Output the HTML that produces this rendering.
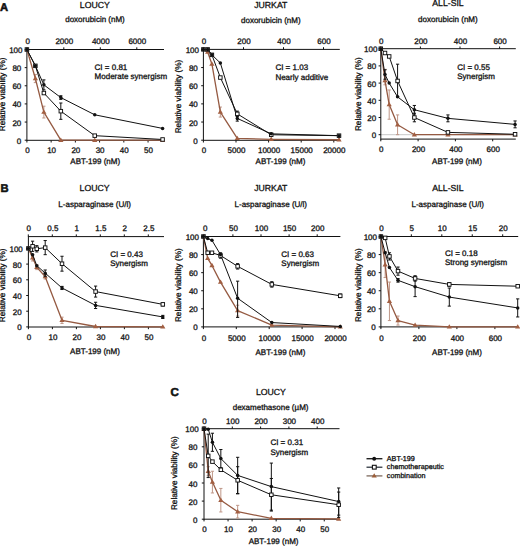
<!DOCTYPE html>
<html><head><meta charset="utf-8"><style>
html,body{margin:0;padding:0;background:#fff;}
svg{display:block;}
text{font-family:"Liberation Sans", sans-serif;fill:#111;stroke:#111;stroke-width:0.3px;text-rendering:geometricPrecision;}
</style></head><body>
<svg width="520" height="547" viewBox="0 0 520 547">
<rect width="520" height="547" fill="#fff"/>
<line x1="26.90" y1="49.50" x2="164.00" y2="49.50" stroke="#111" stroke-width="1"/>
<line x1="26.90" y1="140.30" x2="164.00" y2="140.30" stroke="#111" stroke-width="1"/>
<line x1="26.90" y1="49.00" x2="26.90" y2="140.80" stroke="#111" stroke-width="1"/>
<line x1="27.30" y1="47.30" x2="27.30" y2="49.50" stroke="#111" stroke-width="1"/>
<text x="27.80" y="43.60" font-size="8" text-anchor="middle" font-weight="normal" >0</text>
<line x1="63.80" y1="47.30" x2="63.80" y2="49.50" stroke="#111" stroke-width="1"/>
<text x="64.30" y="43.60" font-size="8" text-anchor="middle" font-weight="normal" >2000</text>
<line x1="100.30" y1="47.30" x2="100.30" y2="49.50" stroke="#111" stroke-width="1"/>
<text x="100.80" y="43.60" font-size="8" text-anchor="middle" font-weight="normal" >4000</text>
<line x1="136.80" y1="47.30" x2="136.80" y2="49.50" stroke="#111" stroke-width="1"/>
<text x="137.30" y="43.60" font-size="8" text-anchor="middle" font-weight="normal" >6000</text>
<line x1="26.90" y1="140.30" x2="26.90" y2="142.50" stroke="#111" stroke-width="1"/>
<text x="27.40" y="153.00" font-size="8" text-anchor="middle" font-weight="normal" >0</text>
<line x1="51.13" y1="140.30" x2="51.13" y2="142.50" stroke="#111" stroke-width="1"/>
<text x="51.63" y="153.00" font-size="8" text-anchor="middle" font-weight="normal" >10</text>
<line x1="75.36" y1="140.30" x2="75.36" y2="142.50" stroke="#111" stroke-width="1"/>
<text x="75.86" y="153.00" font-size="8" text-anchor="middle" font-weight="normal" >20</text>
<line x1="99.59" y1="140.30" x2="99.59" y2="142.50" stroke="#111" stroke-width="1"/>
<text x="100.09" y="153.00" font-size="8" text-anchor="middle" font-weight="normal" >30</text>
<line x1="123.82" y1="140.30" x2="123.82" y2="142.50" stroke="#111" stroke-width="1"/>
<text x="124.32" y="153.00" font-size="8" text-anchor="middle" font-weight="normal" >40</text>
<line x1="148.05" y1="140.30" x2="148.05" y2="142.50" stroke="#111" stroke-width="1"/>
<text x="148.55" y="153.00" font-size="8" text-anchor="middle" font-weight="normal" >50</text>
<line x1="24.70" y1="140.20" x2="26.90" y2="140.20" stroke="#111" stroke-width="1"/>
<text x="21.30" y="143.70" font-size="8" text-anchor="end" font-weight="normal" >0</text>
<line x1="24.70" y1="122.06" x2="26.90" y2="122.06" stroke="#111" stroke-width="1"/>
<text x="21.30" y="125.56" font-size="8" text-anchor="end" font-weight="normal" >20</text>
<line x1="24.70" y1="103.92" x2="26.90" y2="103.92" stroke="#111" stroke-width="1"/>
<text x="21.30" y="107.42" font-size="8" text-anchor="end" font-weight="normal" >40</text>
<line x1="24.70" y1="85.78" x2="26.90" y2="85.78" stroke="#111" stroke-width="1"/>
<text x="21.30" y="89.28" font-size="8" text-anchor="end" font-weight="normal" >60</text>
<line x1="24.70" y1="67.64" x2="26.90" y2="67.64" stroke="#111" stroke-width="1"/>
<text x="21.30" y="71.14" font-size="8" text-anchor="end" font-weight="normal" >80</text>
<line x1="24.70" y1="49.50" x2="26.90" y2="49.50" stroke="#111" stroke-width="1"/>
<text x="22.50" y="53.00" font-size="8" text-anchor="end" font-weight="normal" >100</text>
<text x="94.80" y="8.20" font-size="8.7" text-anchor="middle" font-weight="normal" >LOUCY</text>
<text x="95.00" y="22.30" font-size="8" text-anchor="middle" font-weight="normal" >doxorubicin (nM)</text>
<text x="95.20" y="164.20" font-size="8" text-anchor="middle" font-weight="normal" >ABT-199 (nM)</text>
<text transform="translate(4.90,94.40) rotate(-90)" font-size="8.2" text-anchor="middle">Relative viability (%)</text>
<text x="94.60" y="69.80" font-size="8" text-anchor="start" font-weight="normal" >CI = 0.81</text>
<text x="94.60" y="79.40" font-size="8" text-anchor="start" font-weight="normal" >Moderate synergism</text>
<line x1="35.38" y1="82.61" x2="35.38" y2="74.44" stroke="#bf9788" stroke-width="1"/>
<line x1="33.78" y1="82.61" x2="36.98" y2="82.61" stroke="#bf9788" stroke-width="1"/>
<line x1="33.78" y1="74.44" x2="36.98" y2="74.44" stroke="#bf9788" stroke-width="1"/>
<line x1="43.86" y1="117.98" x2="43.86" y2="106.19" stroke="#bf9788" stroke-width="1"/>
<line x1="42.26" y1="117.98" x2="45.46" y2="117.98" stroke="#bf9788" stroke-width="1"/>
<line x1="42.26" y1="106.19" x2="45.46" y2="106.19" stroke="#bf9788" stroke-width="1"/>
<polyline points="26.90,49.50 35.38,78.52 43.86,112.08 60.82,140.20 94.74,140.20 162.59,140.20" fill="none" stroke="#955a42" stroke-width="1.3" stroke-linejoin="round"/>
<path d="M26.90,46.80 L29.50,51.20 L24.30,51.20Z" fill="#a25f42"/>
<path d="M35.38,75.82 L37.98,80.22 L32.78,80.22Z" fill="#a25f42"/>
<path d="M43.86,109.38 L46.46,113.78 L41.26,113.78Z" fill="#a25f42"/>
<path d="M60.82,137.50 L63.42,141.90 L58.22,141.90Z" fill="#a25f42"/>
<path d="M94.74,137.50 L97.34,141.90 L92.14,141.90Z" fill="#a25f42"/>
<path d="M162.59,137.50 L165.19,141.90 L159.99,141.90Z" fill="#a25f42"/>
<line x1="60.82" y1="119.34" x2="60.82" y2="103.01" stroke="#111" stroke-width="1"/>
<line x1="59.22" y1="119.34" x2="62.42" y2="119.34" stroke="#111" stroke-width="1"/>
<line x1="59.22" y1="103.01" x2="62.42" y2="103.01" stroke="#111" stroke-width="1"/>
<polyline points="26.90,49.50 35.38,65.83 43.86,93.04 60.82,111.18 94.74,135.66 162.59,139.47" fill="none" stroke="#111" stroke-width="1.0" stroke-linejoin="round"/>
<line x1="43.86" y1="89.86" x2="43.86" y2="79.88" stroke="#111" stroke-width="1"/>
<line x1="42.26" y1="89.86" x2="45.46" y2="89.86" stroke="#111" stroke-width="1"/>
<line x1="42.26" y1="79.88" x2="45.46" y2="79.88" stroke="#111" stroke-width="1"/>
<line x1="60.82" y1="99.38" x2="60.82" y2="95.76" stroke="#111" stroke-width="1"/>
<line x1="59.22" y1="99.38" x2="62.42" y2="99.38" stroke="#111" stroke-width="1"/>
<line x1="59.22" y1="95.76" x2="62.42" y2="95.76" stroke="#111" stroke-width="1"/>
<polyline points="26.90,49.50 35.38,65.83 43.86,84.87 60.82,97.57 94.74,114.80 162.59,128.41" fill="none" stroke="#111" stroke-width="1.0" stroke-linejoin="round"/>
<rect x="25.15" y="47.75" width="3.5" height="3.5" fill="#fff" stroke="#111" stroke-width="0.95"/>
<rect x="33.63" y="64.08" width="3.5" height="3.5" fill="#fff" stroke="#111" stroke-width="0.95"/>
<rect x="42.11" y="91.29" width="3.5" height="3.5" fill="#fff" stroke="#111" stroke-width="0.95"/>
<rect x="59.07" y="109.43" width="3.5" height="3.5" fill="#fff" stroke="#111" stroke-width="0.95"/>
<rect x="92.99" y="133.91" width="3.5" height="3.5" fill="#fff" stroke="#111" stroke-width="0.95"/>
<rect x="160.84" y="137.72" width="3.5" height="3.5" fill="#fff" stroke="#111" stroke-width="0.95"/>
<circle cx="26.90" cy="49.50" r="1.75" fill="#111"/>
<circle cx="35.38" cy="65.83" r="1.75" fill="#111"/>
<circle cx="43.86" cy="84.87" r="1.75" fill="#111"/>
<circle cx="60.82" cy="97.57" r="1.75" fill="#111"/>
<circle cx="94.74" cy="114.80" r="1.75" fill="#111"/>
<circle cx="162.59" cy="128.41" r="1.75" fill="#111"/>
<line x1="203.40" y1="49.40" x2="339.80" y2="49.40" stroke="#111" stroke-width="1"/>
<line x1="203.40" y1="140.30" x2="339.80" y2="140.30" stroke="#111" stroke-width="1"/>
<line x1="203.40" y1="48.90" x2="203.40" y2="140.80" stroke="#111" stroke-width="1"/>
<line x1="203.50" y1="47.20" x2="203.50" y2="49.40" stroke="#111" stroke-width="1"/>
<text x="204.00" y="43.90" font-size="8" text-anchor="middle" font-weight="normal" >0</text>
<line x1="243.50" y1="47.20" x2="243.50" y2="49.40" stroke="#111" stroke-width="1"/>
<text x="244.00" y="43.90" font-size="8" text-anchor="middle" font-weight="normal" >200</text>
<line x1="283.50" y1="47.20" x2="283.50" y2="49.40" stroke="#111" stroke-width="1"/>
<text x="284.00" y="43.90" font-size="8" text-anchor="middle" font-weight="normal" >400</text>
<line x1="323.50" y1="47.20" x2="323.50" y2="49.40" stroke="#111" stroke-width="1"/>
<text x="324.00" y="43.90" font-size="8" text-anchor="middle" font-weight="normal" >600</text>
<line x1="203.40" y1="140.30" x2="203.40" y2="142.50" stroke="#111" stroke-width="1"/>
<text x="203.90" y="152.60" font-size="8" text-anchor="middle" font-weight="normal" >0</text>
<line x1="236.00" y1="140.30" x2="236.00" y2="142.50" stroke="#111" stroke-width="1"/>
<text x="236.50" y="152.60" font-size="8" text-anchor="middle" font-weight="normal" >5000</text>
<line x1="268.60" y1="140.30" x2="268.60" y2="142.50" stroke="#111" stroke-width="1"/>
<text x="269.10" y="152.60" font-size="8" text-anchor="middle" font-weight="normal" >10000</text>
<line x1="301.20" y1="140.30" x2="301.20" y2="142.50" stroke="#111" stroke-width="1"/>
<text x="301.70" y="152.60" font-size="8" text-anchor="middle" font-weight="normal" >15000</text>
<line x1="333.80" y1="140.30" x2="333.80" y2="142.50" stroke="#111" stroke-width="1"/>
<text x="334.30" y="152.60" font-size="8" text-anchor="middle" font-weight="normal" >20000</text>
<line x1="201.20" y1="140.20" x2="203.40" y2="140.20" stroke="#111" stroke-width="1"/>
<text x="197.80" y="143.70" font-size="8" text-anchor="end" font-weight="normal" >0</text>
<line x1="201.20" y1="122.04" x2="203.40" y2="122.04" stroke="#111" stroke-width="1"/>
<text x="197.80" y="125.54" font-size="8" text-anchor="end" font-weight="normal" >20</text>
<line x1="201.20" y1="103.88" x2="203.40" y2="103.88" stroke="#111" stroke-width="1"/>
<text x="197.80" y="107.38" font-size="8" text-anchor="end" font-weight="normal" >40</text>
<line x1="201.20" y1="85.72" x2="203.40" y2="85.72" stroke="#111" stroke-width="1"/>
<text x="197.80" y="89.22" font-size="8" text-anchor="end" font-weight="normal" >60</text>
<line x1="201.20" y1="67.56" x2="203.40" y2="67.56" stroke="#111" stroke-width="1"/>
<text x="197.80" y="71.06" font-size="8" text-anchor="end" font-weight="normal" >80</text>
<line x1="201.20" y1="49.40" x2="203.40" y2="49.40" stroke="#111" stroke-width="1"/>
<text x="199.00" y="52.90" font-size="8" text-anchor="end" font-weight="normal" >100</text>
<text x="270.80" y="7.90" font-size="8.7" text-anchor="middle" font-weight="normal" >JURKAT</text>
<text x="270.80" y="22.80" font-size="8" text-anchor="middle" font-weight="normal" >doxorubicin (nM)</text>
<text x="280.50" y="164.00" font-size="8" text-anchor="middle" font-weight="normal" >ABT-199 (nM)</text>
<text transform="translate(181.30,96.50) rotate(-90)" font-size="8.2" text-anchor="middle">Relative viability (%)</text>
<text x="275.40" y="70.10" font-size="8" text-anchor="start" font-weight="normal" >CI = 1.03</text>
<text x="275.40" y="80.10" font-size="8" text-anchor="start" font-weight="normal" >Nearly additive</text>
<line x1="220.35" y1="117.05" x2="220.35" y2="107.06" stroke="#bf9788" stroke-width="1"/>
<line x1="218.75" y1="117.05" x2="221.95" y2="117.05" stroke="#bf9788" stroke-width="1"/>
<line x1="218.75" y1="107.06" x2="221.95" y2="107.06" stroke="#bf9788" stroke-width="1"/>
<polyline points="203.40,49.40 207.64,52.12 211.88,63.93 220.35,112.05 237.30,138.38 271.21,139.29 339.02,139.75" fill="none" stroke="#955a42" stroke-width="1.3" stroke-linejoin="round"/>
<path d="M203.40,46.70 L206.00,51.10 L200.80,51.10Z" fill="#a25f42"/>
<path d="M207.64,49.42 L210.24,53.82 L205.04,53.82Z" fill="#a25f42"/>
<path d="M211.88,61.23 L214.48,65.63 L209.28,65.63Z" fill="#a25f42"/>
<path d="M220.35,109.35 L222.95,113.75 L217.75,113.75Z" fill="#a25f42"/>
<path d="M237.30,135.68 L239.90,140.08 L234.70,140.08Z" fill="#a25f42"/>
<path d="M271.21,136.59 L273.81,140.99 L268.61,140.99Z" fill="#a25f42"/>
<path d="M339.02,137.05 L341.62,141.45 L336.42,141.45Z" fill="#a25f42"/>
<line x1="237.30" y1="116.59" x2="237.30" y2="111.14" stroke="#111" stroke-width="1"/>
<line x1="235.70" y1="116.59" x2="238.90" y2="116.59" stroke="#111" stroke-width="1"/>
<line x1="235.70" y1="111.14" x2="238.90" y2="111.14" stroke="#111" stroke-width="1"/>
<polyline points="203.40,49.40 207.64,49.40 211.88,54.85 220.35,77.55 237.30,113.87 271.21,134.75 339.02,135.66" fill="none" stroke="#111" stroke-width="1.0" stroke-linejoin="round"/>
<line x1="237.30" y1="121.13" x2="237.30" y2="115.68" stroke="#111" stroke-width="1"/>
<line x1="235.70" y1="121.13" x2="238.90" y2="121.13" stroke="#111" stroke-width="1"/>
<line x1="235.70" y1="115.68" x2="238.90" y2="115.68" stroke="#111" stroke-width="1"/>
<polyline points="203.40,49.40 207.64,49.40 211.88,54.85 220.35,63.02 237.30,118.41 271.21,133.84 339.02,135.66" fill="none" stroke="#111" stroke-width="1.0" stroke-linejoin="round"/>
<rect x="201.65" y="47.65" width="3.5" height="3.5" fill="#fff" stroke="#111" stroke-width="0.95"/>
<rect x="205.89" y="47.65" width="3.5" height="3.5" fill="#fff" stroke="#111" stroke-width="0.95"/>
<rect x="210.13" y="53.10" width="3.5" height="3.5" fill="#fff" stroke="#111" stroke-width="0.95"/>
<rect x="218.60" y="75.80" width="3.5" height="3.5" fill="#fff" stroke="#111" stroke-width="0.95"/>
<rect x="235.55" y="112.12" width="3.5" height="3.5" fill="#fff" stroke="#111" stroke-width="0.95"/>
<rect x="269.46" y="133.00" width="3.5" height="3.5" fill="#fff" stroke="#111" stroke-width="0.95"/>
<rect x="337.27" y="133.91" width="3.5" height="3.5" fill="#fff" stroke="#111" stroke-width="0.95"/>
<circle cx="203.40" cy="49.40" r="1.75" fill="#111"/>
<circle cx="207.64" cy="49.40" r="1.75" fill="#111"/>
<circle cx="211.88" cy="54.85" r="1.75" fill="#111"/>
<circle cx="220.35" cy="63.02" r="1.75" fill="#111"/>
<circle cx="237.30" cy="118.41" r="1.75" fill="#111"/>
<circle cx="271.21" cy="133.84" r="1.75" fill="#111"/>
<circle cx="339.02" cy="135.66" r="1.75" fill="#111"/>
<line x1="380.80" y1="134.70" x2="515.80" y2="134.70" stroke="#c8c8c8" stroke-width="1"/>
<line x1="380.80" y1="48.70" x2="515.80" y2="48.70" stroke="#111" stroke-width="1"/>
<line x1="380.80" y1="139.10" x2="515.80" y2="139.10" stroke="#111" stroke-width="1"/>
<line x1="380.80" y1="48.20" x2="380.80" y2="139.60" stroke="#111" stroke-width="1"/>
<line x1="380.80" y1="46.50" x2="380.80" y2="48.70" stroke="#111" stroke-width="1"/>
<text x="381.30" y="44.10" font-size="8" text-anchor="middle" font-weight="normal" >0</text>
<line x1="420.40" y1="46.50" x2="420.40" y2="48.70" stroke="#111" stroke-width="1"/>
<text x="420.90" y="44.10" font-size="8" text-anchor="middle" font-weight="normal" >200</text>
<line x1="460.00" y1="46.50" x2="460.00" y2="48.70" stroke="#111" stroke-width="1"/>
<text x="460.50" y="44.10" font-size="8" text-anchor="middle" font-weight="normal" >400</text>
<line x1="499.60" y1="46.50" x2="499.60" y2="48.70" stroke="#111" stroke-width="1"/>
<text x="500.10" y="44.10" font-size="8" text-anchor="middle" font-weight="normal" >600</text>
<line x1="380.80" y1="139.10" x2="380.80" y2="141.30" stroke="#111" stroke-width="1"/>
<text x="381.30" y="151.80" font-size="8" text-anchor="middle" font-weight="normal" >0</text>
<line x1="418.10" y1="139.10" x2="418.10" y2="141.30" stroke="#111" stroke-width="1"/>
<text x="418.60" y="151.80" font-size="8" text-anchor="middle" font-weight="normal" >200</text>
<line x1="455.40" y1="139.10" x2="455.40" y2="141.30" stroke="#111" stroke-width="1"/>
<text x="455.90" y="151.80" font-size="8" text-anchor="middle" font-weight="normal" >400</text>
<line x1="492.70" y1="139.10" x2="492.70" y2="141.30" stroke="#111" stroke-width="1"/>
<text x="493.20" y="151.80" font-size="8" text-anchor="middle" font-weight="normal" >600</text>
<line x1="378.60" y1="134.70" x2="380.80" y2="134.70" stroke="#111" stroke-width="1"/>
<text x="376.20" y="138.20" font-size="8" text-anchor="end" font-weight="normal" >0</text>
<line x1="378.60" y1="117.50" x2="380.80" y2="117.50" stroke="#111" stroke-width="1"/>
<text x="376.20" y="121.00" font-size="8" text-anchor="end" font-weight="normal" >20</text>
<line x1="378.60" y1="100.30" x2="380.80" y2="100.30" stroke="#111" stroke-width="1"/>
<text x="376.20" y="103.80" font-size="8" text-anchor="end" font-weight="normal" >40</text>
<line x1="378.60" y1="83.10" x2="380.80" y2="83.10" stroke="#111" stroke-width="1"/>
<text x="376.20" y="86.60" font-size="8" text-anchor="end" font-weight="normal" >60</text>
<line x1="378.60" y1="65.90" x2="380.80" y2="65.90" stroke="#111" stroke-width="1"/>
<text x="376.20" y="69.40" font-size="8" text-anchor="end" font-weight="normal" >80</text>
<line x1="378.60" y1="48.70" x2="380.80" y2="48.70" stroke="#111" stroke-width="1"/>
<text x="377.40" y="52.20" font-size="8" text-anchor="end" font-weight="normal" >100</text>
<text x="448.00" y="6.30" font-size="8.7" text-anchor="middle" font-weight="normal" >ALL-SIL</text>
<text x="447.90" y="21.90" font-size="8" text-anchor="middle" font-weight="normal" >doxorubicin (nM)</text>
<text x="457.00" y="164.00" font-size="8" text-anchor="middle" font-weight="normal" >ABT-199 (nM)</text>
<text transform="translate(360.80,94.20) rotate(-90)" font-size="8.2" text-anchor="middle">Relative viability (%)</text>
<text x="457.20" y="69.50" font-size="8" text-anchor="start" font-weight="normal" >CI = 0.55</text>
<text x="457.20" y="79.40" font-size="8" text-anchor="start" font-weight="normal" >Synergism</text>
<line x1="385.00" y1="84.82" x2="385.00" y2="69.34" stroke="#bf9788" stroke-width="1"/>
<line x1="383.40" y1="84.82" x2="386.60" y2="84.82" stroke="#bf9788" stroke-width="1"/>
<line x1="383.40" y1="69.34" x2="386.60" y2="69.34" stroke="#bf9788" stroke-width="1"/>
<line x1="389.19" y1="119.22" x2="389.19" y2="89.98" stroke="#bf9788" stroke-width="1"/>
<line x1="387.59" y1="119.22" x2="390.79" y2="119.22" stroke="#bf9788" stroke-width="1"/>
<line x1="387.59" y1="89.98" x2="390.79" y2="89.98" stroke="#bf9788" stroke-width="1"/>
<line x1="397.59" y1="134.70" x2="397.59" y2="114.92" stroke="#bf9788" stroke-width="1"/>
<line x1="395.99" y1="134.70" x2="399.19" y2="134.70" stroke="#bf9788" stroke-width="1"/>
<line x1="395.99" y1="114.92" x2="399.19" y2="114.92" stroke="#bf9788" stroke-width="1"/>
<polyline points="380.80,48.70 385.00,80.52 389.19,104.60 397.59,124.81 414.37,134.70 447.94,134.70 515.08,134.70" fill="none" stroke="#955a42" stroke-width="1.3" stroke-linejoin="round"/>
<path d="M380.80,46.00 L383.40,50.40 L378.20,50.40Z" fill="#a25f42"/>
<path d="M385.00,77.82 L387.60,82.22 L382.40,82.22Z" fill="#a25f42"/>
<path d="M389.19,101.90 L391.79,106.30 L386.59,106.30Z" fill="#a25f42"/>
<path d="M397.59,122.11 L400.19,126.51 L394.99,126.51Z" fill="#a25f42"/>
<path d="M414.37,132.00 L416.97,136.40 L411.77,136.40Z" fill="#a25f42"/>
<path d="M447.94,132.00 L450.54,136.40 L445.34,136.40Z" fill="#a25f42"/>
<path d="M515.08,132.00 L517.68,136.40 L512.48,136.40Z" fill="#a25f42"/>
<line x1="397.59" y1="96.86" x2="397.59" y2="64.18" stroke="#111" stroke-width="1"/>
<line x1="395.99" y1="96.86" x2="399.19" y2="96.86" stroke="#111" stroke-width="1"/>
<line x1="395.99" y1="64.18" x2="399.19" y2="64.18" stroke="#111" stroke-width="1"/>
<line x1="414.37" y1="121.80" x2="414.37" y2="113.20" stroke="#111" stroke-width="1"/>
<line x1="412.77" y1="121.80" x2="415.97" y2="121.80" stroke="#111" stroke-width="1"/>
<line x1="412.77" y1="113.20" x2="415.97" y2="113.20" stroke="#111" stroke-width="1"/>
<polyline points="380.80,48.70 385.00,53.00 389.19,56.44 397.59,80.95 414.37,117.50 447.94,132.38 515.08,134.27" fill="none" stroke="#111" stroke-width="1.0" stroke-linejoin="round"/>
<line x1="385.00" y1="79.23" x2="385.00" y2="69.77" stroke="#111" stroke-width="1"/>
<line x1="383.40" y1="79.23" x2="386.60" y2="79.23" stroke="#111" stroke-width="1"/>
<line x1="383.40" y1="69.77" x2="386.60" y2="69.77" stroke="#111" stroke-width="1"/>
<line x1="414.37" y1="114.06" x2="414.37" y2="105.46" stroke="#111" stroke-width="1"/>
<line x1="412.77" y1="114.06" x2="415.97" y2="114.06" stroke="#111" stroke-width="1"/>
<line x1="412.77" y1="105.46" x2="415.97" y2="105.46" stroke="#111" stroke-width="1"/>
<line x1="447.94" y1="121.80" x2="447.94" y2="114.92" stroke="#111" stroke-width="1"/>
<line x1="446.34" y1="121.80" x2="449.54" y2="121.80" stroke="#111" stroke-width="1"/>
<line x1="446.34" y1="114.92" x2="449.54" y2="114.92" stroke="#111" stroke-width="1"/>
<line x1="515.08" y1="127.82" x2="515.08" y2="120.94" stroke="#111" stroke-width="1"/>
<line x1="513.48" y1="127.82" x2="516.68" y2="127.82" stroke="#111" stroke-width="1"/>
<line x1="513.48" y1="120.94" x2="516.68" y2="120.94" stroke="#111" stroke-width="1"/>
<polyline points="380.80,48.70 385.00,74.50 389.19,83.10 397.59,96.86 414.37,109.76 447.94,118.36 515.08,124.38" fill="none" stroke="#111" stroke-width="1.0" stroke-linejoin="round"/>
<rect x="379.05" y="46.95" width="3.5" height="3.5" fill="#fff" stroke="#111" stroke-width="0.95"/>
<rect x="383.25" y="51.25" width="3.5" height="3.5" fill="#fff" stroke="#111" stroke-width="0.95"/>
<rect x="387.44" y="54.69" width="3.5" height="3.5" fill="#fff" stroke="#111" stroke-width="0.95"/>
<rect x="395.84" y="79.20" width="3.5" height="3.5" fill="#fff" stroke="#111" stroke-width="0.95"/>
<rect x="412.62" y="115.75" width="3.5" height="3.5" fill="#fff" stroke="#111" stroke-width="0.95"/>
<rect x="446.19" y="130.63" width="3.5" height="3.5" fill="#fff" stroke="#111" stroke-width="0.95"/>
<rect x="513.33" y="132.52" width="3.5" height="3.5" fill="#fff" stroke="#111" stroke-width="0.95"/>
<circle cx="380.80" cy="48.70" r="1.75" fill="#111"/>
<circle cx="385.00" cy="74.50" r="1.75" fill="#111"/>
<circle cx="389.19" cy="83.10" r="1.75" fill="#111"/>
<circle cx="397.59" cy="96.86" r="1.75" fill="#111"/>
<circle cx="414.37" cy="109.76" r="1.75" fill="#111"/>
<circle cx="447.94" cy="118.36" r="1.75" fill="#111"/>
<circle cx="515.08" cy="124.38" r="1.75" fill="#111"/>
<line x1="28.40" y1="236.60" x2="164.00" y2="236.60" stroke="#111" stroke-width="1"/>
<line x1="28.40" y1="327.00" x2="164.00" y2="327.00" stroke="#111" stroke-width="1"/>
<line x1="28.40" y1="236.10" x2="28.40" y2="327.50" stroke="#111" stroke-width="1"/>
<line x1="28.30" y1="234.40" x2="28.30" y2="236.60" stroke="#111" stroke-width="1"/>
<text x="28.80" y="230.80" font-size="8" text-anchor="middle" font-weight="normal" >0</text>
<line x1="52.30" y1="234.40" x2="52.30" y2="236.60" stroke="#111" stroke-width="1"/>
<text x="52.80" y="230.80" font-size="8" text-anchor="middle" font-weight="normal" >0.5</text>
<line x1="76.30" y1="234.40" x2="76.30" y2="236.60" stroke="#111" stroke-width="1"/>
<text x="76.80" y="230.80" font-size="8" text-anchor="middle" font-weight="normal" >1</text>
<line x1="100.30" y1="234.40" x2="100.30" y2="236.60" stroke="#111" stroke-width="1"/>
<text x="100.80" y="230.80" font-size="8" text-anchor="middle" font-weight="normal" >1.5</text>
<line x1="124.30" y1="234.40" x2="124.30" y2="236.60" stroke="#111" stroke-width="1"/>
<text x="124.80" y="230.80" font-size="8" text-anchor="middle" font-weight="normal" >2</text>
<line x1="148.30" y1="234.40" x2="148.30" y2="236.60" stroke="#111" stroke-width="1"/>
<text x="148.80" y="230.80" font-size="8" text-anchor="middle" font-weight="normal" >2.5</text>
<line x1="28.40" y1="327.00" x2="28.40" y2="329.20" stroke="#111" stroke-width="1"/>
<text x="28.90" y="340.00" font-size="8" text-anchor="middle" font-weight="normal" >0</text>
<line x1="52.40" y1="327.00" x2="52.40" y2="329.20" stroke="#111" stroke-width="1"/>
<text x="52.90" y="340.00" font-size="8" text-anchor="middle" font-weight="normal" >10</text>
<line x1="76.40" y1="327.00" x2="76.40" y2="329.20" stroke="#111" stroke-width="1"/>
<text x="76.90" y="340.00" font-size="8" text-anchor="middle" font-weight="normal" >20</text>
<line x1="100.40" y1="327.00" x2="100.40" y2="329.20" stroke="#111" stroke-width="1"/>
<text x="100.90" y="340.00" font-size="8" text-anchor="middle" font-weight="normal" >30</text>
<line x1="124.40" y1="327.00" x2="124.40" y2="329.20" stroke="#111" stroke-width="1"/>
<text x="124.90" y="340.00" font-size="8" text-anchor="middle" font-weight="normal" >40</text>
<line x1="148.40" y1="327.00" x2="148.40" y2="329.20" stroke="#111" stroke-width="1"/>
<text x="148.90" y="340.00" font-size="8" text-anchor="middle" font-weight="normal" >50</text>
<line x1="26.20" y1="326.90" x2="28.40" y2="326.90" stroke="#111" stroke-width="1"/>
<text x="21.60" y="330.40" font-size="8" text-anchor="end" font-weight="normal" >0</text>
<line x1="26.20" y1="311.20" x2="28.40" y2="311.20" stroke="#111" stroke-width="1"/>
<text x="21.60" y="314.70" font-size="8" text-anchor="end" font-weight="normal" >20</text>
<line x1="26.20" y1="295.50" x2="28.40" y2="295.50" stroke="#111" stroke-width="1"/>
<text x="21.60" y="299.00" font-size="8" text-anchor="end" font-weight="normal" >40</text>
<line x1="26.20" y1="279.80" x2="28.40" y2="279.80" stroke="#111" stroke-width="1"/>
<text x="21.60" y="283.30" font-size="8" text-anchor="end" font-weight="normal" >60</text>
<line x1="26.20" y1="264.10" x2="28.40" y2="264.10" stroke="#111" stroke-width="1"/>
<text x="21.60" y="267.60" font-size="8" text-anchor="end" font-weight="normal" >80</text>
<line x1="26.20" y1="248.40" x2="28.40" y2="248.40" stroke="#111" stroke-width="1"/>
<text x="22.80" y="251.90" font-size="8" text-anchor="end" font-weight="normal" >100</text>
<text x="94.55" y="190.80" font-size="8.7" text-anchor="middle" font-weight="normal" >LOUCY</text>
<text x="94.60" y="206.80" font-size="8" text-anchor="middle" font-weight="normal" >L-asparaginase (U/l)</text>
<text x="95.00" y="354.00" font-size="8" text-anchor="middle" font-weight="normal" >ABT-199 (nM)</text>
<text transform="translate(5.10,285.30) rotate(-90)" font-size="8.2" text-anchor="middle">Relative viability (%)</text>
<text x="110.20" y="256.70" font-size="8" text-anchor="start" font-weight="normal" >CI = 0.43</text>
<text x="110.20" y="265.70" font-size="8" text-anchor="start" font-weight="normal" >Synergism</text>
<line x1="32.60" y1="260.96" x2="32.60" y2="254.68" stroke="#bf9788" stroke-width="1"/>
<line x1="31.00" y1="260.96" x2="34.20" y2="260.96" stroke="#bf9788" stroke-width="1"/>
<line x1="31.00" y1="254.68" x2="34.20" y2="254.68" stroke="#bf9788" stroke-width="1"/>
<line x1="36.80" y1="269.60" x2="36.80" y2="264.88" stroke="#bf9788" stroke-width="1"/>
<line x1="35.20" y1="269.60" x2="38.40" y2="269.60" stroke="#bf9788" stroke-width="1"/>
<line x1="35.20" y1="264.88" x2="38.40" y2="264.88" stroke="#bf9788" stroke-width="1"/>
<line x1="45.20" y1="279.01" x2="45.20" y2="274.31" stroke="#bf9788" stroke-width="1"/>
<line x1="43.60" y1="279.01" x2="46.80" y2="279.01" stroke="#bf9788" stroke-width="1"/>
<line x1="43.60" y1="274.31" x2="46.80" y2="274.31" stroke="#bf9788" stroke-width="1"/>
<line x1="62.00" y1="323.45" x2="62.00" y2="317.17" stroke="#bf9788" stroke-width="1"/>
<line x1="60.40" y1="323.45" x2="63.60" y2="323.45" stroke="#bf9788" stroke-width="1"/>
<line x1="60.40" y1="317.17" x2="63.60" y2="317.17" stroke="#bf9788" stroke-width="1"/>
<polyline points="28.40,248.40 32.60,257.82 36.80,267.24 45.20,276.66 62.00,320.31 95.60,326.51 162.80,326.90" fill="none" stroke="#955a42" stroke-width="1.3" stroke-linejoin="round"/>
<path d="M28.40,245.70 L31.00,250.10 L25.80,250.10Z" fill="#a25f42"/>
<path d="M32.60,255.12 L35.20,259.52 L30.00,259.52Z" fill="#a25f42"/>
<path d="M36.80,264.54 L39.40,268.94 L34.20,268.94Z" fill="#a25f42"/>
<path d="M45.20,273.96 L47.80,278.36 L42.60,278.36Z" fill="#a25f42"/>
<path d="M62.00,317.61 L64.60,322.01 L59.40,322.01Z" fill="#a25f42"/>
<path d="M95.60,323.81 L98.20,328.21 L93.00,328.21Z" fill="#a25f42"/>
<path d="M162.80,324.20 L165.40,328.60 L160.20,328.60Z" fill="#a25f42"/>
<line x1="32.60" y1="251.38" x2="32.60" y2="241.18" stroke="#111" stroke-width="1"/>
<line x1="31.00" y1="251.38" x2="34.20" y2="251.38" stroke="#111" stroke-width="1"/>
<line x1="31.00" y1="241.18" x2="34.20" y2="241.18" stroke="#111" stroke-width="1"/>
<line x1="36.80" y1="251.93" x2="36.80" y2="245.65" stroke="#111" stroke-width="1"/>
<line x1="35.20" y1="251.93" x2="38.40" y2="251.93" stroke="#111" stroke-width="1"/>
<line x1="35.20" y1="245.65" x2="38.40" y2="245.65" stroke="#111" stroke-width="1"/>
<line x1="45.20" y1="254.68" x2="45.20" y2="240.55" stroke="#111" stroke-width="1"/>
<line x1="43.60" y1="254.68" x2="46.80" y2="254.68" stroke="#111" stroke-width="1"/>
<line x1="43.60" y1="240.55" x2="46.80" y2="240.55" stroke="#111" stroke-width="1"/>
<line x1="62.00" y1="271.16" x2="62.00" y2="256.25" stroke="#111" stroke-width="1"/>
<line x1="60.40" y1="271.16" x2="63.60" y2="271.16" stroke="#111" stroke-width="1"/>
<line x1="60.40" y1="256.25" x2="63.60" y2="256.25" stroke="#111" stroke-width="1"/>
<line x1="95.60" y1="297.07" x2="95.60" y2="286.08" stroke="#111" stroke-width="1"/>
<line x1="94.00" y1="297.07" x2="97.20" y2="297.07" stroke="#111" stroke-width="1"/>
<line x1="94.00" y1="286.08" x2="97.20" y2="286.08" stroke="#111" stroke-width="1"/>
<line x1="162.80" y1="305.94" x2="162.80" y2="302.80" stroke="#111" stroke-width="1"/>
<line x1="161.20" y1="305.94" x2="164.40" y2="305.94" stroke="#111" stroke-width="1"/>
<line x1="161.20" y1="302.80" x2="164.40" y2="302.80" stroke="#111" stroke-width="1"/>
<polyline points="28.40,248.40 32.60,246.28 36.80,248.79 45.20,247.62 62.00,263.71 95.60,291.57 162.80,304.37" fill="none" stroke="#111" stroke-width="1.0" stroke-linejoin="round"/>
<line x1="45.20" y1="276.27" x2="45.20" y2="269.99" stroke="#111" stroke-width="1"/>
<line x1="43.60" y1="276.27" x2="46.80" y2="276.27" stroke="#111" stroke-width="1"/>
<line x1="43.60" y1="269.99" x2="46.80" y2="269.99" stroke="#111" stroke-width="1"/>
<line x1="62.00" y1="289.53" x2="62.00" y2="286.39" stroke="#111" stroke-width="1"/>
<line x1="60.40" y1="289.53" x2="63.60" y2="289.53" stroke="#111" stroke-width="1"/>
<line x1="60.40" y1="286.39" x2="63.60" y2="286.39" stroke="#111" stroke-width="1"/>
<line x1="95.60" y1="308.53" x2="95.60" y2="302.25" stroke="#111" stroke-width="1"/>
<line x1="94.00" y1="308.53" x2="97.20" y2="308.53" stroke="#111" stroke-width="1"/>
<line x1="94.00" y1="302.25" x2="97.20" y2="302.25" stroke="#111" stroke-width="1"/>
<line x1="162.80" y1="318.50" x2="162.80" y2="315.36" stroke="#111" stroke-width="1"/>
<line x1="161.20" y1="318.50" x2="164.40" y2="318.50" stroke="#111" stroke-width="1"/>
<line x1="161.20" y1="315.36" x2="164.40" y2="315.36" stroke="#111" stroke-width="1"/>
<polyline points="28.40,248.40 32.60,254.68 36.80,265.67 45.20,273.13 62.00,287.96 95.60,305.39 162.80,316.93" fill="none" stroke="#111" stroke-width="1.0" stroke-linejoin="round"/>
<rect x="26.65" y="246.65" width="3.5" height="3.5" fill="#fff" stroke="#111" stroke-width="0.95"/>
<rect x="30.85" y="244.53" width="3.5" height="3.5" fill="#fff" stroke="#111" stroke-width="0.95"/>
<rect x="35.05" y="247.04" width="3.5" height="3.5" fill="#fff" stroke="#111" stroke-width="0.95"/>
<rect x="43.45" y="245.87" width="3.5" height="3.5" fill="#fff" stroke="#111" stroke-width="0.95"/>
<rect x="60.25" y="261.96" width="3.5" height="3.5" fill="#fff" stroke="#111" stroke-width="0.95"/>
<rect x="93.85" y="289.82" width="3.5" height="3.5" fill="#fff" stroke="#111" stroke-width="0.95"/>
<rect x="161.05" y="302.62" width="3.5" height="3.5" fill="#fff" stroke="#111" stroke-width="0.95"/>
<circle cx="28.40" cy="248.40" r="1.75" fill="#111"/>
<circle cx="32.60" cy="254.68" r="1.75" fill="#111"/>
<circle cx="36.80" cy="265.67" r="1.75" fill="#111"/>
<circle cx="45.20" cy="273.13" r="1.75" fill="#111"/>
<circle cx="62.00" cy="287.96" r="1.75" fill="#111"/>
<circle cx="95.60" cy="305.39" r="1.75" fill="#111"/>
<circle cx="162.80" cy="316.93" r="1.75" fill="#111"/>
<line x1="203.40" y1="236.50" x2="340.40" y2="236.50" stroke="#111" stroke-width="1"/>
<line x1="203.40" y1="326.90" x2="340.40" y2="326.90" stroke="#111" stroke-width="1"/>
<line x1="203.40" y1="236.00" x2="203.40" y2="327.40" stroke="#111" stroke-width="1"/>
<line x1="204.80" y1="234.30" x2="204.80" y2="236.50" stroke="#111" stroke-width="1"/>
<text x="205.30" y="230.60" font-size="8" text-anchor="middle" font-weight="normal" >0</text>
<line x1="232.90" y1="234.30" x2="232.90" y2="236.50" stroke="#111" stroke-width="1"/>
<text x="233.40" y="230.60" font-size="8" text-anchor="middle" font-weight="normal" >50</text>
<line x1="261.00" y1="234.30" x2="261.00" y2="236.50" stroke="#111" stroke-width="1"/>
<text x="261.50" y="230.60" font-size="8" text-anchor="middle" font-weight="normal" >100</text>
<line x1="289.10" y1="234.30" x2="289.10" y2="236.50" stroke="#111" stroke-width="1"/>
<text x="289.60" y="230.60" font-size="8" text-anchor="middle" font-weight="normal" >150</text>
<line x1="317.20" y1="234.30" x2="317.20" y2="236.50" stroke="#111" stroke-width="1"/>
<text x="317.70" y="230.60" font-size="8" text-anchor="middle" font-weight="normal" >200</text>
<line x1="203.40" y1="326.90" x2="203.40" y2="329.10" stroke="#111" stroke-width="1"/>
<text x="203.90" y="340.60" font-size="8" text-anchor="middle" font-weight="normal" >0</text>
<line x1="236.30" y1="326.90" x2="236.30" y2="329.10" stroke="#111" stroke-width="1"/>
<text x="236.80" y="340.60" font-size="8" text-anchor="middle" font-weight="normal" >5000</text>
<line x1="269.20" y1="326.90" x2="269.20" y2="329.10" stroke="#111" stroke-width="1"/>
<text x="269.70" y="340.60" font-size="8" text-anchor="middle" font-weight="normal" >10000</text>
<line x1="302.10" y1="326.90" x2="302.10" y2="329.10" stroke="#111" stroke-width="1"/>
<text x="302.60" y="340.60" font-size="8" text-anchor="middle" font-weight="normal" >15000</text>
<line x1="335.00" y1="326.90" x2="335.00" y2="329.10" stroke="#111" stroke-width="1"/>
<text x="335.50" y="340.60" font-size="8" text-anchor="middle" font-weight="normal" >20000</text>
<line x1="201.20" y1="326.90" x2="203.40" y2="326.90" stroke="#111" stroke-width="1"/>
<text x="197.80" y="330.40" font-size="8" text-anchor="end" font-weight="normal" >0</text>
<line x1="201.20" y1="308.82" x2="203.40" y2="308.82" stroke="#111" stroke-width="1"/>
<text x="197.80" y="312.32" font-size="8" text-anchor="end" font-weight="normal" >20</text>
<line x1="201.20" y1="290.74" x2="203.40" y2="290.74" stroke="#111" stroke-width="1"/>
<text x="197.80" y="294.24" font-size="8" text-anchor="end" font-weight="normal" >40</text>
<line x1="201.20" y1="272.66" x2="203.40" y2="272.66" stroke="#111" stroke-width="1"/>
<text x="197.80" y="276.16" font-size="8" text-anchor="end" font-weight="normal" >60</text>
<line x1="201.20" y1="254.58" x2="203.40" y2="254.58" stroke="#111" stroke-width="1"/>
<text x="197.80" y="258.08" font-size="8" text-anchor="end" font-weight="normal" >80</text>
<line x1="201.20" y1="236.50" x2="203.40" y2="236.50" stroke="#111" stroke-width="1"/>
<text x="199.00" y="240.00" font-size="8" text-anchor="end" font-weight="normal" >100</text>
<text x="270.80" y="190.90" font-size="8.7" text-anchor="middle" font-weight="normal" >JURKAT</text>
<text x="270.80" y="206.50" font-size="8" text-anchor="middle" font-weight="normal" >L-asparaginase (U/l)</text>
<text x="280.40" y="354.50" font-size="8" text-anchor="middle" font-weight="normal" >ABT-199 (nM)</text>
<text transform="translate(181.30,285.20) rotate(-90)" font-size="8.2" text-anchor="middle">Relative viability (%)</text>
<text x="281.30" y="256.60" font-size="8" text-anchor="start" font-weight="normal" >CI = 0.63</text>
<text x="281.30" y="265.70" font-size="8" text-anchor="start" font-weight="normal" >Synergism</text>
<line x1="237.62" y1="316.05" x2="237.62" y2="305.20" stroke="#bf9788" stroke-width="1"/>
<line x1="236.02" y1="316.05" x2="239.22" y2="316.05" stroke="#bf9788" stroke-width="1"/>
<line x1="236.02" y1="305.20" x2="239.22" y2="305.20" stroke="#bf9788" stroke-width="1"/>
<polyline points="203.40,236.50 207.68,258.38 211.95,265.43 220.51,282.15 237.62,310.63 271.83,325.09 340.26,326.90" fill="none" stroke="#955a42" stroke-width="1.3" stroke-linejoin="round"/>
<path d="M203.40,233.80 L206.00,238.20 L200.80,238.20Z" fill="#a25f42"/>
<path d="M207.68,255.68 L210.28,260.08 L205.08,260.08Z" fill="#a25f42"/>
<path d="M211.95,262.73 L214.55,267.13 L209.35,267.13Z" fill="#a25f42"/>
<path d="M220.51,279.45 L223.11,283.85 L217.91,283.85Z" fill="#a25f42"/>
<path d="M237.62,307.93 L240.22,312.33 L235.02,312.33Z" fill="#a25f42"/>
<path d="M271.83,322.39 L274.43,326.79 L269.23,326.79Z" fill="#a25f42"/>
<path d="M340.26,324.20 L342.86,328.60 L337.66,328.60Z" fill="#a25f42"/>
<line x1="220.51" y1="258.20" x2="220.51" y2="252.77" stroke="#111" stroke-width="1"/>
<line x1="218.91" y1="258.20" x2="222.11" y2="258.20" stroke="#111" stroke-width="1"/>
<line x1="218.91" y1="252.77" x2="222.11" y2="252.77" stroke="#111" stroke-width="1"/>
<line x1="237.62" y1="269.04" x2="237.62" y2="263.62" stroke="#111" stroke-width="1"/>
<line x1="236.02" y1="269.04" x2="239.22" y2="269.04" stroke="#111" stroke-width="1"/>
<line x1="236.02" y1="263.62" x2="239.22" y2="263.62" stroke="#111" stroke-width="1"/>
<line x1="271.83" y1="287.12" x2="271.83" y2="281.70" stroke="#111" stroke-width="1"/>
<line x1="270.23" y1="287.12" x2="273.43" y2="287.12" stroke="#111" stroke-width="1"/>
<line x1="270.23" y1="281.70" x2="273.43" y2="281.70" stroke="#111" stroke-width="1"/>
<line x1="340.26" y1="297.61" x2="340.26" y2="293.99" stroke="#111" stroke-width="1"/>
<line x1="338.66" y1="297.61" x2="341.86" y2="297.61" stroke="#111" stroke-width="1"/>
<line x1="338.66" y1="293.99" x2="341.86" y2="293.99" stroke="#111" stroke-width="1"/>
<polyline points="203.40,236.50 207.68,252.77 211.95,252.77 220.51,255.48 237.62,266.33 271.83,284.41 340.26,295.80" fill="none" stroke="#111" stroke-width="1.0" stroke-linejoin="round"/>
<line x1="237.62" y1="317.41" x2="237.62" y2="281.16" stroke="#111" stroke-width="1"/>
<line x1="236.02" y1="317.41" x2="239.22" y2="317.41" stroke="#111" stroke-width="1"/>
<line x1="236.02" y1="281.16" x2="239.22" y2="281.16" stroke="#111" stroke-width="1"/>
<polyline points="203.40,236.50 207.68,238.58 211.95,240.30 220.51,254.58 237.62,298.24 271.83,322.56 340.26,326.45" fill="none" stroke="#111" stroke-width="1.0" stroke-linejoin="round"/>
<rect x="201.65" y="234.75" width="3.5" height="3.5" fill="#fff" stroke="#111" stroke-width="0.95"/>
<rect x="205.93" y="251.02" width="3.5" height="3.5" fill="#fff" stroke="#111" stroke-width="0.95"/>
<rect x="210.20" y="251.02" width="3.5" height="3.5" fill="#fff" stroke="#111" stroke-width="0.95"/>
<rect x="218.76" y="253.73" width="3.5" height="3.5" fill="#fff" stroke="#111" stroke-width="0.95"/>
<rect x="235.87" y="264.58" width="3.5" height="3.5" fill="#fff" stroke="#111" stroke-width="0.95"/>
<rect x="270.08" y="282.66" width="3.5" height="3.5" fill="#fff" stroke="#111" stroke-width="0.95"/>
<rect x="338.51" y="294.05" width="3.5" height="3.5" fill="#fff" stroke="#111" stroke-width="0.95"/>
<circle cx="203.40" cy="236.50" r="1.75" fill="#111"/>
<circle cx="207.68" cy="238.58" r="1.75" fill="#111"/>
<circle cx="211.95" cy="240.30" r="1.75" fill="#111"/>
<circle cx="220.51" cy="254.58" r="1.75" fill="#111"/>
<circle cx="237.62" cy="298.24" r="1.75" fill="#111"/>
<circle cx="271.83" cy="322.56" r="1.75" fill="#111"/>
<circle cx="340.26" cy="326.45" r="1.75" fill="#111"/>
<line x1="380.90" y1="236.50" x2="518.20" y2="236.50" stroke="#111" stroke-width="1"/>
<line x1="380.90" y1="326.90" x2="518.20" y2="326.90" stroke="#111" stroke-width="1"/>
<line x1="380.90" y1="236.00" x2="380.90" y2="327.40" stroke="#111" stroke-width="1"/>
<line x1="380.90" y1="234.30" x2="380.90" y2="236.50" stroke="#111" stroke-width="1"/>
<text x="381.40" y="230.60" font-size="8" text-anchor="middle" font-weight="normal" >0</text>
<line x1="411.35" y1="234.30" x2="411.35" y2="236.50" stroke="#111" stroke-width="1"/>
<text x="411.85" y="230.60" font-size="8" text-anchor="middle" font-weight="normal" >5</text>
<line x1="441.80" y1="234.30" x2="441.80" y2="236.50" stroke="#111" stroke-width="1"/>
<text x="442.30" y="230.60" font-size="8" text-anchor="middle" font-weight="normal" >10</text>
<line x1="472.25" y1="234.30" x2="472.25" y2="236.50" stroke="#111" stroke-width="1"/>
<text x="472.75" y="230.60" font-size="8" text-anchor="middle" font-weight="normal" >15</text>
<line x1="502.70" y1="234.30" x2="502.70" y2="236.50" stroke="#111" stroke-width="1"/>
<text x="503.20" y="230.60" font-size="8" text-anchor="middle" font-weight="normal" >20</text>
<line x1="380.90" y1="326.90" x2="380.90" y2="329.10" stroke="#111" stroke-width="1"/>
<text x="381.40" y="341.00" font-size="8" text-anchor="middle" font-weight="normal" >0</text>
<line x1="418.90" y1="326.90" x2="418.90" y2="329.10" stroke="#111" stroke-width="1"/>
<text x="419.40" y="341.00" font-size="8" text-anchor="middle" font-weight="normal" >200</text>
<line x1="456.90" y1="326.90" x2="456.90" y2="329.10" stroke="#111" stroke-width="1"/>
<text x="457.40" y="341.00" font-size="8" text-anchor="middle" font-weight="normal" >400</text>
<line x1="494.90" y1="326.90" x2="494.90" y2="329.10" stroke="#111" stroke-width="1"/>
<text x="495.40" y="341.00" font-size="8" text-anchor="middle" font-weight="normal" >600</text>
<line x1="378.70" y1="326.90" x2="380.90" y2="326.90" stroke="#111" stroke-width="1"/>
<text x="375.80" y="330.40" font-size="8" text-anchor="end" font-weight="normal" >0</text>
<line x1="378.70" y1="308.82" x2="380.90" y2="308.82" stroke="#111" stroke-width="1"/>
<text x="375.80" y="312.32" font-size="8" text-anchor="end" font-weight="normal" >20</text>
<line x1="378.70" y1="290.74" x2="380.90" y2="290.74" stroke="#111" stroke-width="1"/>
<text x="375.80" y="294.24" font-size="8" text-anchor="end" font-weight="normal" >40</text>
<line x1="378.70" y1="272.66" x2="380.90" y2="272.66" stroke="#111" stroke-width="1"/>
<text x="375.80" y="276.16" font-size="8" text-anchor="end" font-weight="normal" >60</text>
<line x1="378.70" y1="254.58" x2="380.90" y2="254.58" stroke="#111" stroke-width="1"/>
<text x="375.80" y="258.08" font-size="8" text-anchor="end" font-weight="normal" >80</text>
<line x1="378.70" y1="236.50" x2="380.90" y2="236.50" stroke="#111" stroke-width="1"/>
<text x="377.00" y="240.00" font-size="8" text-anchor="end" font-weight="normal" >100</text>
<text x="447.90" y="190.80" font-size="8.7" text-anchor="middle" font-weight="normal" >ALL-SIL</text>
<text x="447.70" y="206.80" font-size="8" text-anchor="middle" font-weight="normal" >L-asparaginase (U/l)</text>
<text x="457.00" y="354.60" font-size="8" text-anchor="middle" font-weight="normal" >ABT-199 (nM)</text>
<text transform="translate(360.80,285.20) rotate(-90)" font-size="8.2" text-anchor="middle">Relative viability (%)</text>
<text x="445.00" y="256.00" font-size="8" text-anchor="start" font-weight="normal" >CI = 0.18</text>
<text x="445.00" y="265.20" font-size="8" text-anchor="start" font-weight="normal" >Strong synergism</text>
<line x1="385.17" y1="277.54" x2="385.17" y2="251.42" stroke="#bf9788" stroke-width="1"/>
<line x1="383.57" y1="277.54" x2="386.77" y2="277.54" stroke="#bf9788" stroke-width="1"/>
<line x1="383.57" y1="251.42" x2="386.77" y2="251.42" stroke="#bf9788" stroke-width="1"/>
<line x1="389.45" y1="320.57" x2="389.45" y2="282.06" stroke="#bf9788" stroke-width="1"/>
<line x1="387.85" y1="320.57" x2="391.05" y2="320.57" stroke="#bf9788" stroke-width="1"/>
<line x1="387.85" y1="282.06" x2="391.05" y2="282.06" stroke="#bf9788" stroke-width="1"/>
<line x1="398.00" y1="325.09" x2="398.00" y2="316.05" stroke="#bf9788" stroke-width="1"/>
<line x1="396.40" y1="325.09" x2="399.60" y2="325.09" stroke="#bf9788" stroke-width="1"/>
<line x1="396.40" y1="316.05" x2="399.60" y2="316.05" stroke="#bf9788" stroke-width="1"/>
<polyline points="380.90,236.50 385.17,264.70 389.45,301.32 398.00,320.57 415.10,325.09 449.30,326.90 517.70,326.90" fill="none" stroke="#955a42" stroke-width="1.3" stroke-linejoin="round"/>
<path d="M380.90,233.80 L383.50,238.20 L378.30,238.20Z" fill="#a25f42"/>
<path d="M385.17,262.00 L387.77,266.40 L382.57,266.40Z" fill="#a25f42"/>
<path d="M389.45,298.62 L392.05,303.02 L386.85,303.02Z" fill="#a25f42"/>
<path d="M398.00,317.87 L400.60,322.27 L395.40,322.27Z" fill="#a25f42"/>
<path d="M415.10,322.39 L417.70,326.79 L412.50,326.79Z" fill="#a25f42"/>
<path d="M449.30,324.20 L451.90,328.60 L446.70,328.60Z" fill="#a25f42"/>
<path d="M517.70,324.20 L520.30,328.60 L515.10,328.60Z" fill="#a25f42"/>
<line x1="389.45" y1="260.00" x2="389.45" y2="252.77" stroke="#111" stroke-width="1"/>
<line x1="387.85" y1="260.00" x2="391.05" y2="260.00" stroke="#111" stroke-width="1"/>
<line x1="387.85" y1="252.77" x2="391.05" y2="252.77" stroke="#111" stroke-width="1"/>
<line x1="398.00" y1="275.19" x2="398.00" y2="267.06" stroke="#111" stroke-width="1"/>
<line x1="396.40" y1="275.19" x2="399.60" y2="275.19" stroke="#111" stroke-width="1"/>
<line x1="396.40" y1="267.06" x2="399.60" y2="267.06" stroke="#111" stroke-width="1"/>
<line x1="415.10" y1="281.16" x2="415.10" y2="275.73" stroke="#111" stroke-width="1"/>
<line x1="413.50" y1="281.16" x2="416.70" y2="281.16" stroke="#111" stroke-width="1"/>
<line x1="413.50" y1="275.73" x2="416.70" y2="275.73" stroke="#111" stroke-width="1"/>
<line x1="449.30" y1="286.22" x2="449.30" y2="282.60" stroke="#111" stroke-width="1"/>
<line x1="447.70" y1="286.22" x2="450.90" y2="286.22" stroke="#111" stroke-width="1"/>
<line x1="447.70" y1="282.60" x2="450.90" y2="282.60" stroke="#111" stroke-width="1"/>
<polyline points="380.90,236.50 385.17,237.86 389.45,256.39 398.00,271.12 415.10,278.45 449.30,284.41 517.70,286.22" fill="none" stroke="#111" stroke-width="1.0" stroke-linejoin="round"/>
<line x1="398.00" y1="282.15" x2="398.00" y2="278.54" stroke="#111" stroke-width="1"/>
<line x1="396.40" y1="282.15" x2="399.60" y2="282.15" stroke="#111" stroke-width="1"/>
<line x1="396.40" y1="278.54" x2="399.60" y2="278.54" stroke="#111" stroke-width="1"/>
<line x1="415.10" y1="296.62" x2="415.10" y2="276.73" stroke="#111" stroke-width="1"/>
<line x1="413.50" y1="296.62" x2="416.70" y2="296.62" stroke="#111" stroke-width="1"/>
<line x1="413.50" y1="276.73" x2="416.70" y2="276.73" stroke="#111" stroke-width="1"/>
<line x1="449.30" y1="306.11" x2="449.30" y2="288.03" stroke="#111" stroke-width="1"/>
<line x1="447.70" y1="306.11" x2="450.90" y2="306.11" stroke="#111" stroke-width="1"/>
<line x1="447.70" y1="288.03" x2="450.90" y2="288.03" stroke="#111" stroke-width="1"/>
<line x1="517.70" y1="316.96" x2="517.70" y2="298.88" stroke="#111" stroke-width="1"/>
<line x1="516.10" y1="316.96" x2="519.30" y2="316.96" stroke="#111" stroke-width="1"/>
<line x1="516.10" y1="298.88" x2="519.30" y2="298.88" stroke="#111" stroke-width="1"/>
<polyline points="380.90,236.50 385.17,252.77 389.45,267.51 398.00,280.34 415.10,286.67 449.30,297.07 517.70,307.92" fill="none" stroke="#111" stroke-width="1.0" stroke-linejoin="round"/>
<rect x="379.15" y="234.75" width="3.5" height="3.5" fill="#fff" stroke="#111" stroke-width="0.95"/>
<rect x="383.42" y="236.11" width="3.5" height="3.5" fill="#fff" stroke="#111" stroke-width="0.95"/>
<rect x="387.70" y="254.64" width="3.5" height="3.5" fill="#fff" stroke="#111" stroke-width="0.95"/>
<rect x="396.25" y="269.37" width="3.5" height="3.5" fill="#fff" stroke="#111" stroke-width="0.95"/>
<rect x="413.35" y="276.70" width="3.5" height="3.5" fill="#fff" stroke="#111" stroke-width="0.95"/>
<rect x="447.55" y="282.66" width="3.5" height="3.5" fill="#fff" stroke="#111" stroke-width="0.95"/>
<rect x="515.95" y="284.47" width="3.5" height="3.5" fill="#fff" stroke="#111" stroke-width="0.95"/>
<circle cx="380.90" cy="236.50" r="1.75" fill="#111"/>
<circle cx="385.17" cy="252.77" r="1.75" fill="#111"/>
<circle cx="389.45" cy="267.51" r="1.75" fill="#111"/>
<circle cx="398.00" cy="280.34" r="1.75" fill="#111"/>
<circle cx="415.10" cy="286.67" r="1.75" fill="#111"/>
<circle cx="449.30" cy="297.07" r="1.75" fill="#111"/>
<circle cx="517.70" cy="307.92" r="1.75" fill="#111"/>
<line x1="204.00" y1="428.70" x2="339.50" y2="428.70" stroke="#111" stroke-width="1"/>
<line x1="204.00" y1="519.20" x2="339.50" y2="519.20" stroke="#111" stroke-width="1"/>
<line x1="204.00" y1="428.20" x2="204.00" y2="519.70" stroke="#111" stroke-width="1"/>
<line x1="204.00" y1="426.50" x2="204.00" y2="428.70" stroke="#111" stroke-width="1"/>
<text x="204.50" y="423.80" font-size="8" text-anchor="middle" font-weight="normal" >0</text>
<line x1="232.30" y1="426.50" x2="232.30" y2="428.70" stroke="#111" stroke-width="1"/>
<text x="232.80" y="423.80" font-size="8" text-anchor="middle" font-weight="normal" >100</text>
<line x1="260.60" y1="426.50" x2="260.60" y2="428.70" stroke="#111" stroke-width="1"/>
<text x="261.10" y="423.80" font-size="8" text-anchor="middle" font-weight="normal" >200</text>
<line x1="288.90" y1="426.50" x2="288.90" y2="428.70" stroke="#111" stroke-width="1"/>
<text x="289.40" y="423.80" font-size="8" text-anchor="middle" font-weight="normal" >300</text>
<line x1="317.20" y1="426.50" x2="317.20" y2="428.70" stroke="#111" stroke-width="1"/>
<text x="317.70" y="423.80" font-size="8" text-anchor="middle" font-weight="normal" >400</text>
<line x1="204.00" y1="519.20" x2="204.00" y2="521.40" stroke="#111" stroke-width="1"/>
<text x="204.50" y="531.60" font-size="8" text-anchor="middle" font-weight="normal" >0</text>
<line x1="228.05" y1="519.20" x2="228.05" y2="521.40" stroke="#111" stroke-width="1"/>
<text x="228.55" y="531.60" font-size="8" text-anchor="middle" font-weight="normal" >10</text>
<line x1="252.10" y1="519.20" x2="252.10" y2="521.40" stroke="#111" stroke-width="1"/>
<text x="252.60" y="531.60" font-size="8" text-anchor="middle" font-weight="normal" >20</text>
<line x1="276.15" y1="519.20" x2="276.15" y2="521.40" stroke="#111" stroke-width="1"/>
<text x="276.65" y="531.60" font-size="8" text-anchor="middle" font-weight="normal" >30</text>
<line x1="300.20" y1="519.20" x2="300.20" y2="521.40" stroke="#111" stroke-width="1"/>
<text x="300.70" y="531.60" font-size="8" text-anchor="middle" font-weight="normal" >40</text>
<line x1="324.25" y1="519.20" x2="324.25" y2="521.40" stroke="#111" stroke-width="1"/>
<text x="324.75" y="531.60" font-size="8" text-anchor="middle" font-weight="normal" >50</text>
<line x1="201.80" y1="519.20" x2="204.00" y2="519.20" stroke="#111" stroke-width="1"/>
<text x="197.40" y="522.70" font-size="8" text-anchor="end" font-weight="normal" >0</text>
<line x1="201.80" y1="501.10" x2="204.00" y2="501.10" stroke="#111" stroke-width="1"/>
<text x="197.40" y="504.60" font-size="8" text-anchor="end" font-weight="normal" >20</text>
<line x1="201.80" y1="483.00" x2="204.00" y2="483.00" stroke="#111" stroke-width="1"/>
<text x="197.40" y="486.50" font-size="8" text-anchor="end" font-weight="normal" >40</text>
<line x1="201.80" y1="464.90" x2="204.00" y2="464.90" stroke="#111" stroke-width="1"/>
<text x="197.40" y="468.40" font-size="8" text-anchor="end" font-weight="normal" >60</text>
<line x1="201.80" y1="446.80" x2="204.00" y2="446.80" stroke="#111" stroke-width="1"/>
<text x="197.40" y="450.30" font-size="8" text-anchor="end" font-weight="normal" >80</text>
<line x1="201.80" y1="428.70" x2="204.00" y2="428.70" stroke="#111" stroke-width="1"/>
<text x="198.60" y="432.20" font-size="8" text-anchor="end" font-weight="normal" >100</text>
<text x="270.90" y="395.20" font-size="8.7" text-anchor="middle" font-weight="normal" >LOUCY</text>
<text x="270.60" y="410.40" font-size="8" text-anchor="middle" font-weight="normal" >dexamethasone (µM)</text>
<text x="273.60" y="544.20" font-size="8" text-anchor="middle" font-weight="normal" >ABT-199 (nM)</text>
<text transform="translate(177.00,473.20) rotate(-90)" font-size="8.2" text-anchor="middle">Relative viability (%)</text>
<text x="270.40" y="445.10" font-size="8" text-anchor="start" font-weight="normal" >CI = 0.31</text>
<text x="270.40" y="454.80" font-size="8" text-anchor="start" font-weight="normal" >Synergism</text>
<line x1="208.21" y1="475.76" x2="208.21" y2="466.71" stroke="#bf9788" stroke-width="1"/>
<line x1="206.61" y1="475.76" x2="209.81" y2="475.76" stroke="#bf9788" stroke-width="1"/>
<line x1="206.61" y1="466.71" x2="209.81" y2="466.71" stroke="#bf9788" stroke-width="1"/>
<line x1="212.42" y1="492.96" x2="212.42" y2="471.24" stroke="#bf9788" stroke-width="1"/>
<line x1="210.82" y1="492.96" x2="214.02" y2="492.96" stroke="#bf9788" stroke-width="1"/>
<line x1="210.82" y1="471.24" x2="214.02" y2="471.24" stroke="#bf9788" stroke-width="1"/>
<line x1="220.84" y1="511.96" x2="220.84" y2="488.43" stroke="#bf9788" stroke-width="1"/>
<line x1="219.24" y1="511.96" x2="222.44" y2="511.96" stroke="#bf9788" stroke-width="1"/>
<line x1="219.24" y1="488.43" x2="222.44" y2="488.43" stroke="#bf9788" stroke-width="1"/>
<line x1="237.67" y1="518.02" x2="237.67" y2="505.35" stroke="#bf9788" stroke-width="1"/>
<line x1="236.07" y1="518.02" x2="239.27" y2="518.02" stroke="#bf9788" stroke-width="1"/>
<line x1="236.07" y1="505.35" x2="239.27" y2="505.35" stroke="#bf9788" stroke-width="1"/>
<polyline points="204.00,428.70 208.21,471.24 212.42,482.10 220.84,500.20 237.67,511.69 271.34,518.30 338.68,518.93" fill="none" stroke="#955a42" stroke-width="1.3" stroke-linejoin="round"/>
<path d="M204.00,426.00 L206.60,430.40 L201.40,430.40Z" fill="#a25f42"/>
<path d="M208.21,468.54 L210.81,472.94 L205.61,472.94Z" fill="#a25f42"/>
<path d="M212.42,479.40 L215.02,483.80 L209.82,483.80Z" fill="#a25f42"/>
<path d="M220.84,497.50 L223.44,501.90 L218.24,501.90Z" fill="#a25f42"/>
<path d="M237.67,508.99 L240.27,513.39 L235.07,513.39Z" fill="#a25f42"/>
<path d="M271.34,515.60 L273.94,520.00 L268.74,520.00Z" fill="#a25f42"/>
<path d="M338.68,516.23 L341.28,520.63 L336.08,520.63Z" fill="#a25f42"/>
<line x1="208.21" y1="477.57" x2="208.21" y2="434.13" stroke="#111" stroke-width="1"/>
<line x1="206.61" y1="477.57" x2="209.81" y2="477.57" stroke="#111" stroke-width="1"/>
<line x1="206.61" y1="434.13" x2="209.81" y2="434.13" stroke="#111" stroke-width="1"/>
<line x1="237.67" y1="493.86" x2="237.67" y2="466.71" stroke="#111" stroke-width="1"/>
<line x1="236.07" y1="493.86" x2="239.27" y2="493.86" stroke="#111" stroke-width="1"/>
<line x1="236.07" y1="466.71" x2="239.27" y2="466.71" stroke="#111" stroke-width="1"/>
<line x1="271.34" y1="511.06" x2="271.34" y2="478.48" stroke="#111" stroke-width="1"/>
<line x1="269.74" y1="511.06" x2="272.94" y2="511.06" stroke="#111" stroke-width="1"/>
<line x1="269.74" y1="478.48" x2="272.94" y2="478.48" stroke="#111" stroke-width="1"/>
<line x1="338.68" y1="517.39" x2="338.68" y2="492.05" stroke="#111" stroke-width="1"/>
<line x1="337.08" y1="517.39" x2="340.28" y2="517.39" stroke="#111" stroke-width="1"/>
<line x1="337.08" y1="492.05" x2="340.28" y2="492.05" stroke="#111" stroke-width="1"/>
<polyline points="204.00,428.70 208.21,455.85 212.42,461.64 220.84,469.79 237.67,480.29 271.34,494.77 338.68,504.72" fill="none" stroke="#111" stroke-width="1.0" stroke-linejoin="round"/>
<line x1="212.42" y1="451.32" x2="212.42" y2="433.23" stroke="#111" stroke-width="1"/>
<line x1="210.82" y1="451.32" x2="214.02" y2="451.32" stroke="#111" stroke-width="1"/>
<line x1="210.82" y1="433.23" x2="214.02" y2="433.23" stroke="#111" stroke-width="1"/>
<line x1="220.84" y1="467.62" x2="220.84" y2="449.51" stroke="#111" stroke-width="1"/>
<line x1="219.24" y1="467.62" x2="222.44" y2="467.62" stroke="#111" stroke-width="1"/>
<line x1="219.24" y1="449.51" x2="222.44" y2="449.51" stroke="#111" stroke-width="1"/>
<line x1="237.67" y1="493.50" x2="237.67" y2="457.30" stroke="#111" stroke-width="1"/>
<line x1="236.07" y1="493.50" x2="239.27" y2="493.50" stroke="#111" stroke-width="1"/>
<line x1="236.07" y1="457.30" x2="239.27" y2="457.30" stroke="#111" stroke-width="1"/>
<line x1="271.34" y1="510.15" x2="271.34" y2="463.09" stroke="#111" stroke-width="1"/>
<line x1="269.74" y1="510.15" x2="272.94" y2="510.15" stroke="#111" stroke-width="1"/>
<line x1="269.74" y1="463.09" x2="272.94" y2="463.09" stroke="#111" stroke-width="1"/>
<line x1="338.68" y1="515.13" x2="338.68" y2="487.98" stroke="#111" stroke-width="1"/>
<line x1="337.08" y1="515.13" x2="340.28" y2="515.13" stroke="#111" stroke-width="1"/>
<line x1="337.08" y1="487.98" x2="340.28" y2="487.98" stroke="#111" stroke-width="1"/>
<polyline points="204.00,428.70 208.21,429.15 212.42,442.27 220.84,458.56 237.67,475.40 271.34,486.62 338.68,501.55" fill="none" stroke="#111" stroke-width="1.0" stroke-linejoin="round"/>
<rect x="202.25" y="426.95" width="3.5" height="3.5" fill="#fff" stroke="#111" stroke-width="0.95"/>
<rect x="206.46" y="454.10" width="3.5" height="3.5" fill="#fff" stroke="#111" stroke-width="0.95"/>
<rect x="210.67" y="459.89" width="3.5" height="3.5" fill="#fff" stroke="#111" stroke-width="0.95"/>
<rect x="219.09" y="468.04" width="3.5" height="3.5" fill="#fff" stroke="#111" stroke-width="0.95"/>
<rect x="235.92" y="478.54" width="3.5" height="3.5" fill="#fff" stroke="#111" stroke-width="0.95"/>
<rect x="269.59" y="493.02" width="3.5" height="3.5" fill="#fff" stroke="#111" stroke-width="0.95"/>
<rect x="336.93" y="502.97" width="3.5" height="3.5" fill="#fff" stroke="#111" stroke-width="0.95"/>
<circle cx="204.00" cy="428.70" r="1.75" fill="#111"/>
<circle cx="208.21" cy="429.15" r="1.75" fill="#111"/>
<circle cx="212.42" cy="442.27" r="1.75" fill="#111"/>
<circle cx="220.84" cy="458.56" r="1.75" fill="#111"/>
<circle cx="237.67" cy="475.40" r="1.75" fill="#111"/>
<circle cx="271.34" cy="486.62" r="1.75" fill="#111"/>
<circle cx="338.68" cy="501.55" r="1.75" fill="#111"/>
<text x="0.00" y="10.70" font-size="11.2" text-anchor="start" font-weight="bold" style="stroke-width:0.55px">A</text>
<text x="0.60" y="191.50" font-size="11.2" text-anchor="start" font-weight="bold" style="stroke-width:0.55px">B</text>
<text x="170.60" y="396.00" font-size="11.6" text-anchor="start" font-weight="bold" style="stroke-width:0.55px">C</text>
<line x1="366.50" y1="458.70" x2="382.40" y2="458.70" stroke="#222" stroke-width="1.4"/>
<circle cx="374.2" cy="458.7" r="1.95" fill="#111"/>
<line x1="366.50" y1="467.20" x2="382.40" y2="467.20" stroke="#1e2630" stroke-width="1.2"/>
<rect x="372.40000000000003" y="465.3" width="3.8" height="3.8" fill="#fff" stroke="#111" stroke-width="1.1"/>
<line x1="366.50" y1="475.90" x2="382.40" y2="475.90" stroke="#7e6a5e" stroke-width="1.3"/>
<path d="M374.20,473.20 L376.80,477.40 L371.60,477.40Z" fill="#9c5f3a"/>
<text x="386.80" y="460.60" font-size="7.2" text-anchor="start" font-weight="normal" >ABT-199</text>
<text x="386.80" y="469.40" font-size="7.2" text-anchor="start" font-weight="normal" >chemotherapeutic</text>
<text x="386.80" y="478.20" font-size="7.2" text-anchor="start" font-weight="normal" >combination</text>
</svg>
</body></html>
